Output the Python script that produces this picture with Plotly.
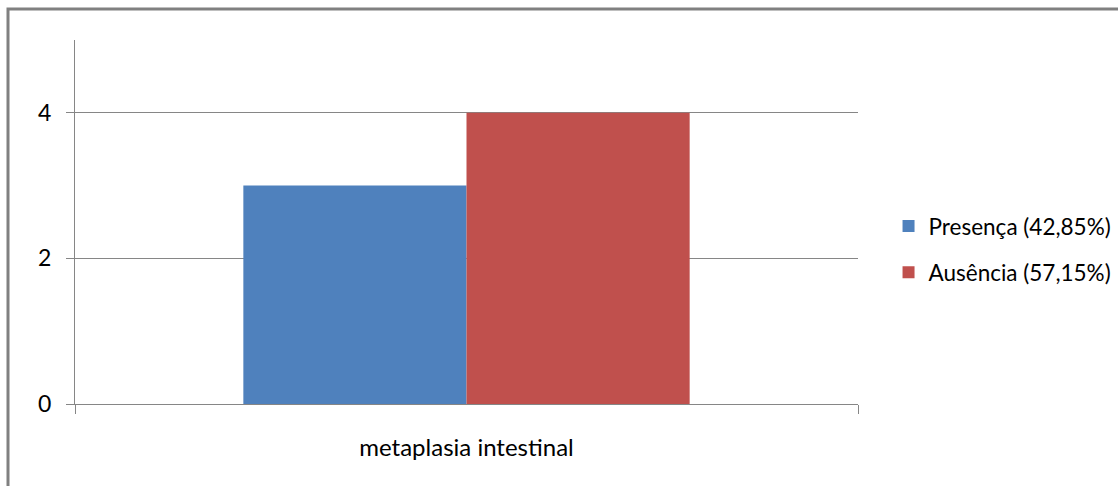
import plotly.graph_objects as go

categories = ["metaplasia intestinal"]
series_names = ["Presença (42,85%)", "Ausência (57,15%)"]
series_values = [[3], [4]]
colors = ["#4F81BD", "#C0504D"]
y_ticks = [0, 2, 4]

W, H = 1118, 486
L, R, T, B = 75, 260, 40, 82

fig = go.Figure()
for name, vals, col in zip(series_names, series_values, colors):
    fig.add_trace(go.Bar(x=categories, y=vals, name=name, marker_color=col,
                         marker_line_width=0, legendgroup=name))

pw = W - L - R
ph = H - T - B
fx = (8 - L) / pw
fy = (H - B - 9) / ph

fig.update_layout(
    width=W, height=H,
    margin=dict(l=L, r=R, t=T, b=B, pad=0, autoexpand=False),
    paper_bgcolor="white", plot_bgcolor="white",
    font=dict(family="Lato, Carlito, Calibri, sans-serif", size=22, color="#000000"),
    bargap=0.43, bargroupgap=0,
    showlegend=True,
    legend=dict(x=1.039, y=0.425, xanchor="left", yanchor="middle",
                font=dict(size=22.5), tracegroupgap=14, bgcolor="rgba(0,0,0,0)"),
    xaxis=dict(showline=True, linecolor="#868686", linewidth=1,
               ticks="outside", tickson="boundaries", ticklen=9, tickcolor="#868686",
               showgrid=False, tickfont=dict(size=24), ticklabelstandoff=22),
    yaxis=dict(range=[0, 5], tickvals=y_ticks, showline=True, linecolor="#868686",
               linewidth=1, ticks="outside", ticklen=8, tickcolor="#868686",
               showgrid=True, gridcolor="#868686", gridwidth=1, zeroline=False,
               tickfont=dict(size=23), ticklabelstandoff=10),
    shapes=[dict(type="path", xref="paper", yref="paper",
                 path=f"M {fx} -0.5 L {fx} {fy} L 1.6 {fy}",
                 line=dict(color="#808080", width=3))],
)

fig.write_html("out.html")
